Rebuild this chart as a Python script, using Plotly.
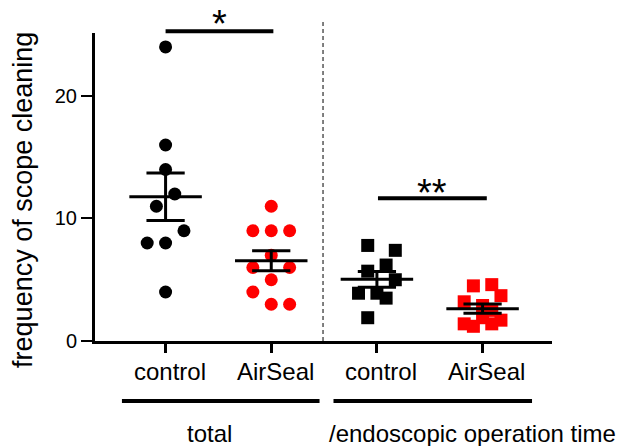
import numpy as np
import plotly.graph_objects as go

# ---------------- data ----------------
categories = ["control", "AirSeal", "control", "AirSeal"]
group_labels = ["total", "/endoscopic operation time"]

control_total = [24, 16, 14, 12, 11, 9, 8, 8, 4]
airseal_total = [11, 9, 9, 9, 7, 6, 6, 5, 4, 3, 3]
control_time = [7.8, 7.4, 6.2, 5.7, 5.0, 3.9, 3.9, 3.5, 1.9]
airseal_time = [4.6, 4.5, 3.7, 3.2, 2.9, 2.5, 1.9, 1.7, 1.4, 1.4, 1.2]

# horizontal scatter displacement (in steps) used by the original plot
control_total_steps = [0, 0, 0, 1, -1, 2, -2, 0, 0]
airseal_total_steps = [0, -2, 0, 2, 0, -2, 2, 0, -2, 0, 2]
control_time_steps = [-1, 2, 1, -1, 2, -2, 0, 1, -1]
airseal_time_steps = [1, -1, 2, -2, 0, 1, 0, 2, -2, 1, -1]

y_ticks = [0, 10, 20]
significance = ["*", "**"]

# ---------------- styling ----------------
FONT = "Liberation Sans, Arial, sans-serif"
STEP = 0.087
MEAN_HALF = 0.343
CAP_HALF = 0.181
RED = "#ff0000"
BLACK = "#000000"

groups = [
    (1, control_total, control_total_steps, BLACK, "circle"),
    (2, airseal_total, airseal_total_steps, RED, "circle"),
    (3, control_time, control_time_steps, BLACK, "square"),
    (4, airseal_time, airseal_time_steps, RED, "square"),
]

fig = go.Figure()

for pos, vals, steps, col, sym in groups:
    xs = [pos + s * STEP for s in steps]
    fig.add_trace(go.Scatter(
        x=xs, y=vals, mode="markers",
        marker=dict(size=13, color=col, symbol=sym, line=dict(width=0)),
        showlegend=False, cliponaxis=False, hoverinfo="y"))

for pos, vals, steps, col, sym in groups:
    arr = np.array(vals, dtype=float)
    m = arr.mean()
    s = arr.std(ddof=1) / np.sqrt(len(arr))
    # mean line
    fig.add_trace(go.Scatter(
        x=[pos - MEAN_HALF, pos + MEAN_HALF], y=[m, m], mode="lines",
        line=dict(color=BLACK, width=3), showlegend=False, hoverinfo="skip"))
    # SEM bar with caps
    fig.add_trace(go.Scatter(
        x=[pos, pos, None, pos - CAP_HALF, pos + CAP_HALF, None, pos - CAP_HALF, pos + CAP_HALF],
        y=[m - s, m + s, None, m + s, m + s, None, m - s, m - s],
        mode="lines", line=dict(color=BLACK, width=3),
        showlegend=False, hoverinfo="skip"))

Y_TOP = 25.14
shapes = []
# dashed separator
shapes.append(dict(type="line", xref="x", yref="paper", x0=2.49, x1=2.49, y0=0, y1=1.036,
                   line=dict(color="#000000", width=1, dash="4px,3px")))
# significance bars
shapes.append(dict(type="line", xref="x", yref="paper", x0=1.0, x1=2.02, y0=1.0055, y1=1.0055,
                   line=dict(color=BLACK, width=4)))
shapes.append(dict(type="line", xref="x", yref="y", x0=3.01, x1=4.04, y0=11.65, y1=11.65,
                   line=dict(color=BLACK, width=4)))
# group bars under categories
shapes.append(dict(type="line", xref="x", yref="paper", x0=0.587, x1=2.457, y0=-0.195, y1=-0.195,
                   line=dict(color=BLACK, width=4)))
shapes.append(dict(type="line", xref="x", yref="paper", x0=2.589, x1=4.468, y0=-0.195, y1=-0.195,
                   line=dict(color=BLACK, width=4)))

annotations = []
for i, c in enumerate(categories):
    annotations.append(dict(x=i + 1, y=-0.1006, xref="x", yref="paper", text=c, showarrow=False,
                            xanchor="center", yanchor="middle", xshift=4,
                            font=dict(family=FONT, size=24, color=BLACK)))
annotations.append(dict(x=1.414, y=-0.305, xref="x", yref="paper", text=group_labels[0],
                        showarrow=False, xanchor="center", yanchor="middle", yshift=1,
                        font=dict(family=FONT, size=24, color=BLACK)))
annotations.append(dict(x=3.907, y=-0.305, xref="x", yref="paper", text=group_labels[1],
                        showarrow=False, xanchor="center", yanchor="middle", yshift=1,
                        font=dict(family=FONT, size=24, color=BLACK)))
# stars
annotations.append(dict(x=1.51, y=1.0055, xref="x", yref="paper", text=significance[0],
                        showarrow=False, xanchor="center", yanchor="middle", yshift=7,
                        font=dict(family=FONT, size=38, color=BLACK)))
annotations.append(dict(x=3.525, y=11.65, xref="x", yref="y", text=significance[1],
                        showarrow=False, xanchor="center", yanchor="middle", yshift=5,
                        font=dict(family=FONT, size=38, color=BLACK)))
# y title
annotations.append(dict(x=-0.1576, y=0.458, xref="paper", yref="paper",
                        text="frequency of scope cleaning", textangle=-90, showarrow=False,
                        xanchor="center", yanchor="middle",
                        font=dict(family=FONT, size=27, color=BLACK)))

fig.update_layout(
    width=628, height=446,
    margin=dict(l=95, r=76, t=33, b=105),
    paper_bgcolor="white", plot_bgcolor="white",
    font=dict(family=FONT, color=BLACK),
    shapes=shapes, annotations=annotations,
    xaxis=dict(range=[0.332, 4.657], showgrid=False, zeroline=False,
               showline=True, linecolor=BLACK, linewidth=3,
               tickmode="array", tickvals=[1, 2, 3, 4], showticklabels=False,
               ticks="outside", ticklen=9, tickwidth=2.5, tickcolor=BLACK),
    yaxis=dict(range=[0, Y_TOP], showgrid=False, zeroline=False,
               showline=True, linecolor=BLACK, linewidth=3,
               tickmode="array", tickvals=y_ticks, ticktext=[str(t) for t in y_ticks],
               ticks="outside", ticklen=11, tickwidth=2, tickcolor=BLACK,
               tickfont=dict(family=FONT, size=20, color=BLACK)),
)

# remove the default page margin so the figure fills the window exactly
fig.write_html("out.html", config={"displayModeBar": False},
               post_script="document.body.style.margin='0px';")
